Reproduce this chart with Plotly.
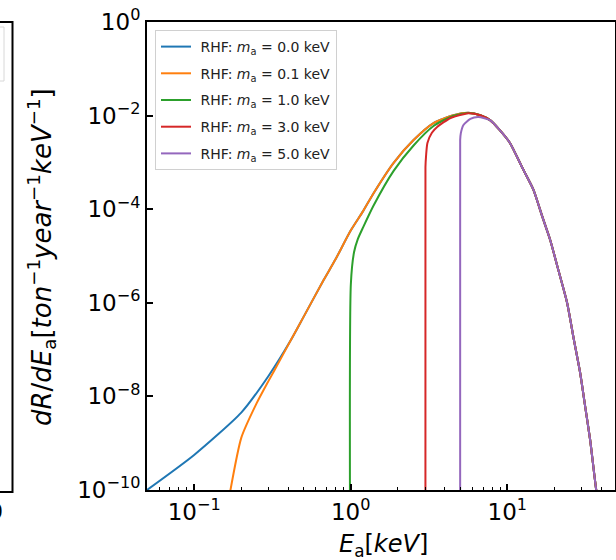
import plotly.graph_objects as go

# ---- data ----
E_m0 = [0.05, 0.1, 0.2, 0.3, 0.415, 0.5, 0.673, 0.8, 1.0, 1.2, 1.4, 1.88, 2.52, 3.38, 4.53,
        5.65, 6.73, 7.8, 8.9, 10.4, 12.5, 14.7, 16.7, 18.8, 21.3, 24.1, 26.6, 29.2, 31.5,
        33.8, 37.0, 40.0]
R_m0 = [1.0e-10, 5.6e-10, 4.5e-9, 2.8e-8, 1.6e-7, 5.0e-7, 3.1e-6, 8.5e-6, 3.5e-5, 9.1e-5,
        2.2e-4, 9.8e-4, 3.0e-3, 6.9e-3, 1.02e-2, 1.15e-2, 1.02e-2, 7.9e-3, 5.0e-3, 2.6e-3,
        7.6e-4, 2.6e-4, 7.1e-5, 2.2e-5, 4.7e-6, 1.0e-6, 1.66e-7, 3.2e-8, 5.8e-9, 1.2e-9,
        1.0e-10, 2.0e-11]

E_m01 = [0.16, 0.2, 0.25, 0.3, 0.35, 0.415, 0.5, 0.673, 0.8, 1.0, 1.2, 1.4, 1.88, 2.52, 3.38,
         4.53, 5.65, 6.73, 7.8, 8.9, 10.4, 12.5, 14.7, 16.7, 18.8, 21.3, 24.1, 26.6, 29.2,
         31.5, 33.8, 37.0, 40.0]
R_m01 = [3.0e-11, 1.3e-9, 7.0e-9, 2.2e-8, 5.6e-8, 1.6e-7, 5.0e-7, 3.1e-6, 8.5e-6, 3.5e-5,
         9.1e-5, 2.2e-4, 9.8e-4, 3.0e-3, 6.9e-3, 1.02e-2, 1.15e-2, 1.02e-2, 7.9e-3, 5.0e-3,
         2.6e-3, 7.6e-4, 2.6e-4, 7.1e-5, 2.2e-5, 4.7e-6, 1.0e-6, 1.66e-7, 3.2e-8, 5.8e-9,
         1.2e-9, 1.0e-10, 2.0e-11]

E_m1 = [1.0, 1.002, 1.05, 1.11, 1.2, 1.4, 1.88, 2.52, 3.38, 4.53, 5.65, 6.73, 7.8, 8.9, 10.4,
        12.5, 14.7, 16.7, 18.8, 21.3, 24.1, 26.6, 29.2, 31.5, 33.8, 37.0, 40.0]
R_m1 = [1.0e-15, 2.5e-6, 1.2e-5, 2.3e-5, 4.1e-5, 1.2e-4, 6.6e-4, 2.3e-3, 6.0e-3, 1.0e-2,
        1.14e-2, 1.02e-2, 7.9e-3, 5.0e-3, 2.6e-3, 7.6e-4, 2.6e-4, 7.1e-5, 2.2e-5, 4.7e-6,
        1.0e-6, 1.66e-7, 3.2e-8, 5.8e-9, 1.2e-9, 1.0e-10, 2.0e-11]

E_m3 = [3.0, 3.002, 3.03, 3.09, 3.3, 3.58, 4.34, 5.25, 5.65, 6.73, 7.8, 8.9, 10.4, 12.5, 14.7,
        16.7, 18.8, 21.3, 24.1, 26.6, 29.2, 31.5, 33.8, 37.0, 40.0]
R_m3 = [1.0e-15, 7.9e-4, 1.4e-3, 2.6e-3, 4.3e-3, 5.8e-3, 8.9e-3, 1.07e-2, 1.12e-2, 1.02e-2,
        7.9e-3, 5.0e-3, 2.6e-3, 7.6e-4, 2.6e-4, 7.1e-5, 2.2e-5, 4.7e-6, 1.0e-6, 1.66e-7,
        3.2e-8, 5.8e-9, 1.2e-9, 1.0e-10, 2.0e-11]

E_m5 = [5.0, 5.002, 5.05, 5.25, 5.81, 6.53, 7.8, 8.9, 10.4, 12.5, 14.7, 16.7, 18.8, 21.3,
        24.1, 26.6, 29.2, 31.5, 33.8, 37.0, 40.0]
R_m5 = [1.0e-15, 3.0e-3, 4.2e-3, 6.3e-3, 8.5e-3, 9.3e-3, 7.9e-3, 5.0e-3, 2.6e-3, 7.6e-4,
        2.6e-4, 7.1e-5, 2.2e-5, 4.7e-6, 1.0e-6, 1.66e-7, 3.2e-8, 5.8e-9, 1.2e-9, 1.0e-10,
        2.0e-11]

series_names = ["0.0", "0.1", "1.0", "3.0", "5.0"]
series_E = [E_m0, E_m01, E_m1, E_m3, E_m5]
series_R = [R_m0, R_m01, R_m1, R_m3, R_m5]
colors = ["#1f77b4", "#ff7f0e", "#2ca02c", "#d62728", "#9467bd"]

y_tickvals = [1e-10, 1e-8, 1e-6, 1e-4, 1e-2, 1]
y_ticktext = ["10<sup>−10</sup>", "10<sup>−8</sup>", "10<sup>−6</sup>", "10<sup>−4</sup>",
              "10<sup>−2</sup>", "10<sup>0</sup>"]
x_tickvals = [0.1, 1, 10]
x_ticktext = ["10<sup>−1</sup>", "10<sup>0</sup>", "10<sup>1</sup>"]
x_minor = [0.06, 0.07, 0.08, 0.09, 0.2, 0.3, 0.4, 0.5, 0.6, 0.7, 0.8, 0.9,
           2, 3, 4, 5, 6, 7, 8, 9, 20, 30, 40]

W, H = 616, 560
FONT = "DejaVu Sans"

fig = go.Figure()
for name, E, R, c in zip(series_names, series_E, series_R, colors):
    fig.add_trace(go.Scatter(
        x=E, y=R, mode="lines",
        line=dict(color=c, width=2, shape="spline", smoothing=0.6),
        name=f"\u00a0RHF: <i>m</i><sub>a</sub> = {name} keV", legendgroup=name,
    ))

x0p, x1p = 147 / W, 615 / W
y0p, y1p = 1 - 490 / H, 1 - 22 / H

axis_common = dict(
    showline=True, linecolor="black", linewidth=2, mirror=True,
    ticks="inside", ticklen=6, tickwidth=1.5, tickcolor="black",
    showgrid=False, zeroline=False, automargin=False,
    tickfont=dict(family=FONT, size=23, color="black"),
)

fig.update_layout(
    template="none",
    width=W, height=H,
    margin=dict(l=0, r=0, t=0, b=0, autoexpand=False),
    paper_bgcolor="white", plot_bgcolor="white",
    font=dict(family=FONT, color="black"),
    xaxis=dict(type="log", domain=[x0p, x1p], range=[-1.301, 1.688],
               tickmode="array", tickvals=x_tickvals, ticktext=x_ticktext,
               minor=dict(tickmode="array", tickvals=x_minor, ticks="inside",
                          ticklen=3, tickwidth=1, tickcolor="black", showgrid=False),
               **axis_common),
    yaxis=dict(type="log", domain=[y0p, y1p], range=[-10, 0],
               tickmode="array", tickvals=y_tickvals, ticktext=y_ticktext,
               **axis_common),
    legend=dict(x=155 / W, y=1 - 30 / H, xanchor="left", yanchor="top",
                bgcolor="white", bordercolor="#d0d0d0", borderwidth=1,
                font=dict(family=FONT, size=14, color="#222222"),
                tracegroupgap=5.5, itemwidth=30),
    showlegend=True,
)

# axis titles
fig.add_annotation(
    text="<i>dR</i>/<i>dE</i><sub>a</sub>[<i>ton</i><sup>−1</sup><i>year</i><sup>−1</sup><i>keV</i><sup>−1</sup>]",
    xref="paper", yref="paper", x=42 / W, y=1 - 257 / H, textangle=-90,
    showarrow=False, xanchor="center", yanchor="middle",
    font=dict(family=FONT, size=26, color="black"))
fig.add_annotation(
    text="<i>E</i><sub>a</sub>[<i>keV</i>]",
    xref="paper", yref="paper", x=383 / W, y=1 - 545 / H,
    showarrow=False, xanchor="center", yanchor="middle",
    font=dict(family=FONT, size=24, color="black"))

# fragment of the neighbouring panel at the left edge
fig.add_shape(type="rect", xref="paper", yref="paper",
              x0=-20 / W, x1=12.5 / W, y0=1 - 492 / H, y1=1 - 22 / H,
              line=dict(color="black", width=2), fillcolor="rgba(0,0,0,0)")
fig.add_shape(type="rect", xref="paper", yref="paper",
              x0=-20 / W, x1=4 / W, y0=1 - 81 / H, y1=1 - 27 / H,
              line=dict(color="#d8d8d8", width=1), fillcolor="rgba(0,0,0,0)")
fig.add_annotation(text="0", xref="paper", yref="paper", x=5 / W, y=1 - 511 / H,
                   showarrow=False, xanchor="right", yanchor="middle",
                   font=dict(family=FONT, size=22, color="black"))

fig.write_html("out.html")
